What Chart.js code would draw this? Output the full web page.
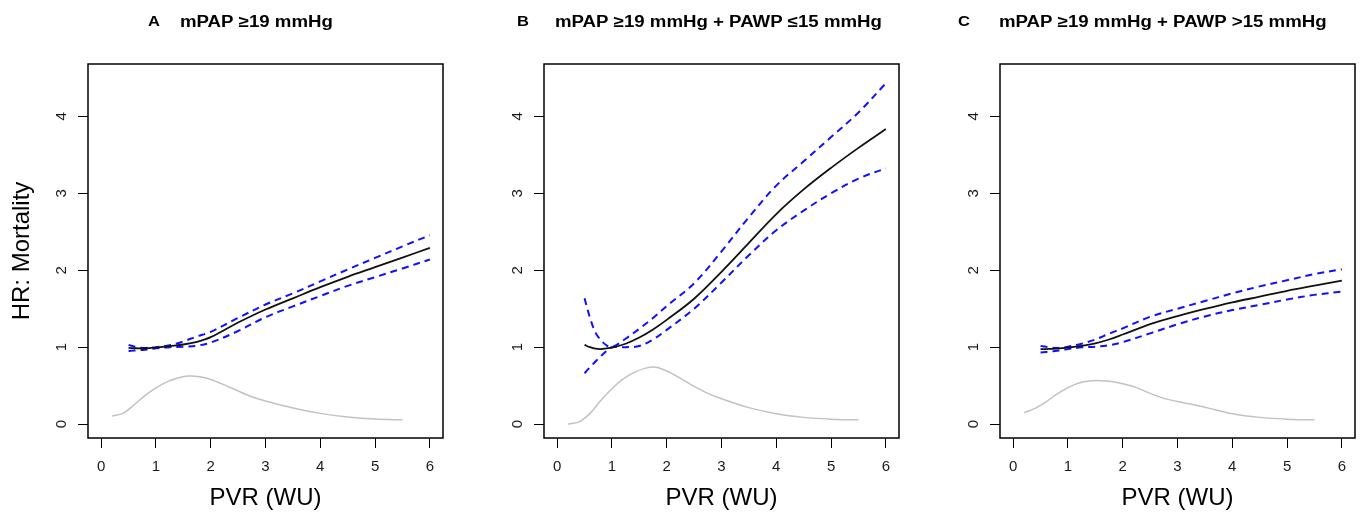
<!DOCTYPE html>
<html>
<head>
<meta charset="utf-8">
<script src="https://cdn.jsdelivr.net/npm/chart.js@4.4.1/dist/chart.umd.min.js"></script>
<style>
  html, body { margin: 0; padding: 0; background: #fff; }
  #wrap { position: relative; width: 1361px; height: 514px; overflow: hidden; }
  #wrap canvas { position: absolute; top: 0; }
</style>
</head>
<body>
<div id="wrap">
  <canvas id="panelA" width="450" height="514" style="left:0px"></canvas>
  <canvas id="panelB" width="455" height="514" style="left:450px"></canvas>
  <canvas id="panelC" width="456" height="514" style="left:905px"></canvas>
</div>
<script>
// axis ticks
const xTicks = [0, 1, 2, 3, 4, 5, 6];
const yTicks = [0, 1, 2, 3, 4];

// PVR values where the curves were read
const hrGrid = [0.5, 0.6, 0.7, 0.8, 0.9, 1.0, 1.25, 1.5, 1.75, 2, 2.5, 3, 3.5, 4, 4.5, 5, 5.5, 6];
const densGrid = [0.2, 0.4, 0.6, 0.8, 1.0, 1.2, 1.4, 1.6, 1.8, 2.0, 2.25, 2.5, 2.75, 3, 3.5, 4, 4.5, 5, 5.5];

// A: mPAP >=19
const hrA = [0.99, 0.987, 0.985, 0.986, 0.99, 0.995, 1.015, 1.035, 1.07, 1.13, 1.32, 1.49, 1.635, 1.78, 1.915, 2.04, 2.165, 2.29];
const upA = [1.03, 1.01, 0.995, 0.99, 0.995, 1.0, 1.025, 1.075, 1.14, 1.20, 1.38, 1.555, 1.70, 1.855, 2.01, 2.16, 2.31, 2.455];
const loA = [0.952, 0.957, 0.962, 0.968, 0.976, 0.985, 1.0, 1.006, 1.02, 1.06, 1.21, 1.39, 1.53, 1.665, 1.797, 1.91, 2.023, 2.14];
const densA = [0.105, 0.14, 0.25, 0.37, 0.47, 0.55, 0.60, 0.625, 0.615, 0.58, 0.51, 0.43, 0.355, 0.30, 0.21, 0.14, 0.093, 0.066, 0.056];

// B: mPAP >=19 + PAWP <=15
const hrB = [1.03, 1.0, 0.98, 0.975, 0.985, 0.995, 1.045, 1.125, 1.23, 1.355, 1.63, 1.98, 2.355, 2.73, 3.05, 3.33, 3.59, 3.835];
const upB = [1.636, 1.38, 1.19, 1.09, 1.025, 1.0, 1.11, 1.24, 1.38, 1.535, 1.83, 2.245, 2.69, 3.1, 3.415, 3.73, 4.05, 4.43];
const loB = [0.662, 0.74, 0.815, 0.885, 0.95, 1.0, 1.0, 1.015, 1.10, 1.225, 1.50, 1.84, 2.195, 2.52, 2.775, 3.0, 3.19, 3.325];
const densB = [0.0, 0.03, 0.14, 0.31, 0.46, 0.585, 0.67, 0.725, 0.74, 0.69, 0.595, 0.49, 0.40, 0.33, 0.215, 0.135, 0.088, 0.065, 0.056];

// C: mPAP >=19 + PAWP >15
const hrC = [0.974, 0.976, 0.978, 0.981, 0.987, 0.995, 1.017, 1.05, 1.10, 1.165, 1.30, 1.405, 1.497, 1.582, 1.657, 1.733, 1.80, 1.865];
const upC = [1.017, 1.005, 0.995, 0.99, 0.992, 1.005, 1.045, 1.10, 1.175, 1.245, 1.395, 1.50, 1.60, 1.70, 1.79, 1.87, 1.95, 2.013];
const loC = [0.93, 0.937, 0.945, 0.953, 0.963, 0.975, 0.998, 1.006, 1.025, 1.065, 1.18, 1.297, 1.40, 1.482, 1.55, 1.62, 1.68, 1.722];
const densC = [0.15, 0.205, 0.29, 0.39, 0.475, 0.535, 0.562, 0.565, 0.553, 0.525, 0.475, 0.40, 0.335, 0.295, 0.22, 0.135, 0.088, 0.065, 0.056];

const FONT = "'Liberation Sans', Arial, Helvetica, sans-serif";

function pts(xs, ys) {
    return xs.map((x, i) => ({ x: x, y: ys[i] }));
}

// box round the plot region, like R's bty="o"
const frame = {
    id: 'frame',
    afterDatasetsDraw(chart) {
        const a = chart.chartArea;
        const ctx = chart.ctx;
        ctx.save();
        ctx.strokeStyle = '#000';
        ctx.lineWidth = 1.5;
        ctx.strokeRect(a.left, a.top, a.right - a.left, a.bottom - a.top);
        ctx.restore();
    }
};

// panel letter + heading, the heading glyphs are a bit wide in the original
const heading = {
    id: 'heading',
    afterDraw(chart, args, opts) {
        const ctx = chart.ctx;
        ctx.save();
        ctx.fillStyle = '#000';
        ctx.textBaseline = 'alphabetic';
        ctx.font = 'bold 15px ' + FONT;
        ctx.translate(opts.letterX, 25.5);
        ctx.scale(1.1, 1);
        ctx.fillText(opts.letter, 0, 0);
        ctx.restore();

        ctx.save();
        ctx.fillStyle = '#000';
        ctx.font = 'bold 16px ' + FONT;
        ctx.translate(opts.textX, 27);
        ctx.scale(1.165, 1);
        ctx.fillText(opts.text, 0, 0);
        ctx.restore();
    }
};

function makePanel(id, cfg) {
    new Chart(document.getElementById(id), {
        type: 'line',
        data: {
            datasets: [
                { data: pts(hrGrid, cfg.hr), borderColor: '#111', borderWidth: 1.8 },
                { data: pts(hrGrid, cfg.up), borderColor: '#1010ff', borderWidth: 2, borderDash: [7, 5] },
                { data: pts(hrGrid, cfg.lo), borderColor: '#1010ff', borderWidth: 2, borderDash: [7, 5] },
                { data: pts(densGrid, cfg.dens), borderColor: '#c2c2c2', borderWidth: 1.5 }
            ]
        },
        options: {
            responsive: false,
            animation: false,
            events: [],
            layout: { padding: { top: 64, right: cfg.padRight, left: 0, bottom: 0 } },
            elements: {
                point: { radius: 0 },
                line: { tension: 0.35, fill: false }
            },
            plugins: {
                legend: { display: false },
                tooltip: { enabled: false },
                heading: { letter: cfg.letter, letterX: cfg.letterX, text: cfg.title, textX: cfg.titleX }
            },
            scales: {
                x: {
                    type: 'linear',
                    min: -0.24,
                    max: 6.24,
                    afterBuildTicks: s => { s.ticks = xTicks.map(v => ({ value: v })); },
                    afterFit: s => { s.height = 76; },
                    border: { display: false },
                    grid: { drawOnChartArea: false, drawTicks: true, tickLength: 10, color: '#000', lineWidth: 1 },
                    ticks: { color: '#1a1a1a', font: { family: FONT, size: 15 }, padding: 10, maxRotation: 0, autoSkip: false },
                    title: { display: true, text: 'PVR (WU)', color: '#000', font: { family: FONT, size: 24 }, padding: { top: 0, bottom: 1 } }
                },
                y: {
                    type: 'linear',
                    min: -0.18,
                    max: 4.68,
                    afterBuildTicks: s => { s.ticks = yTicks.map(v => ({ value: v })); },
                    afterFit: s => { s.width = cfg.plotLeft; },
                    border: { display: false },
                    grid: { drawOnChartArea: false, drawTicks: true, tickLength: 10, color: '#000', lineWidth: 1 },
                    ticks: { color: '#1a1a1a', font: { family: FONT, size: 15 }, padding: 12, minRotation: 90, maxRotation: 90, crossAlign: 'center', autoSkip: false },
                    title: { display: cfg.yTitle, text: 'HR: Mortality', color: '#000', font: { family: FONT, size: 24 }, padding: { top: 8, bottom: 0 } }
                }
            }
        },
        plugins: [frame, heading]
    });
}

makePanel('panelA', { hr: hrA, up: upA, lo: loA, dens: densA, plotLeft: 88, padRight: 7, yTitle: true,
    letter: 'A', letterX: 148, title: 'mPAP ≥19 mmHg', titleX: 180 });
makePanel('panelB', { hr: hrB, up: upB, lo: loB, dens: densB, plotLeft: 94, padRight: 6, yTitle: false,
    letter: 'B', letterX: 67, title: 'mPAP ≥19 mmHg + PAWP ≤15 mmHg', titleX: 105 });
makePanel('panelC', { hr: hrC, up: upC, lo: loC, dens: densC, plotLeft: 95, padRight: 6, yTitle: false,
    letter: 'C', letterX: 53, title: 'mPAP ≥19 mmHg + PAWP >15 mmHg', titleX: 94 });
</script>
</body>
</html>
